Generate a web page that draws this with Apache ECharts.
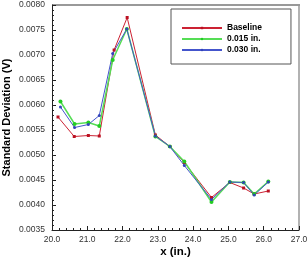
<!DOCTYPE html>
<html><head><meta charset="utf-8">
<script src="https://cdn.jsdelivr.net/npm/echarts@6/dist/echarts.min.js"></script>
<style>html,body{margin:0;padding:0;background:#fff}#c{width:308px;height:260px}</style>
</head><body><div id="c"></div>
<script>
var seriesNames = ['Baseline', '0.015 in.', '0.030 in.'];
var xBaseline = [20.17, 20.63, 21.03, 21.34, 21.76, 22.13, 22.93, 23.34, 23.75, 24.52, 25.04, 25.43, 25.73, 26.13];
var xOther    = [20.24, 20.64, 21.03, 21.34, 21.72, 22.12, 22.93, 23.34, 23.75, 24.52, 25.04, 25.43, 25.73, 26.13];
var yBaseline = [0.00576, 0.00537, 0.00539, 0.00538, 0.00710, 0.00775, 0.00540, 0.00517, 0.00485, 0.00415, 0.00445, 0.00434, 0.00422, 0.00428];
var y015      = [0.00607, 0.00562, 0.00565, 0.00558, 0.00690, 0.00752, 0.00537, 0.00517, 0.00487, 0.00406, 0.00446, 0.00445, 0.00422, 0.00447];
var y030      = [0.00596, 0.00555, 0.00561, 0.00579, 0.00703, 0.00752, 0.00538, 0.00517, 0.00479, 0.00411, 0.00446, 0.00445, 0.00420, 0.00446];
var xTicks = ['20.0','21.0','22.0','23.0','24.0','25.0','26.0','27.0'];

function pairs(xs, ys){ return xs.map(function(x,i){ return [x, ys[i]]; }); }

var chart = echarts.init(document.getElementById('c'), null, {renderer:'canvas'});
var font = 'Liberation Sans, Arial, sans-serif';
chart.setOption({
  animation:false,
  backgroundColor:'#fff',
  grid:{left:52, right:9, top:5, bottom:30, containLabel:false, outerBoundsMode:'none', show:false},
  graphic:[
    {type:'line', shape:{x1:52, y1:5, x2:300, y2:5}, style:{stroke:'#999', lineWidth:2}},
    {type:'line', shape:{x1:299, y1:5, x2:299, y2:230}, style:{stroke:'#999', lineWidth:1.5}}
  ],
  legend:{
    orient:'vertical', left:171, top:9,
    padding:[14, 29, 9, 10], itemGap:1, itemWidth:40, itemHeight:3,
    borderColor:'#555', borderWidth:1,
    textStyle:{fontFamily:font, fontSize:8.5, fontWeight:'bold', color:'#000', lineHeight:10},
    data:seriesNames
  },
  xAxis:{
    type:'value', min:20, max:27, interval:1, name:'x (in.)', nameLocation:'middle', nameGap:16, nameMoveOverlap:false,
    nameTextStyle:{fontFamily:font, fontSize:11.5, fontWeight:'bold', color:'#000'},
    axisLine:{lineStyle:{color:'#222', width:1}},
    axisTick:{inside:true, length:4, lineStyle:{color:'#222'}},
    minorTick:{show:true, splitNumber:5, length:2, lineStyle:{color:'#222', width:1}},
    splitLine:{show:false},
    axisLabel:{fontFamily:font, fontSize:8.5, color:'#333', margin:5,
      formatter:function(v){ return xTicks[Math.round(v-20)]; }}
  },
  yAxis:{
    type:'value', min:0.0035, max:0.0080, interval:0.0005, name:'Standard Deviation (V)', nameLocation:'middle', nameGap:40, nameMoveOverlap:false,
    nameTextStyle:{fontFamily:font, fontSize:11, fontWeight:'bold', color:'#000'},
    axisLine:{show:true, lineStyle:{color:'#222', width:1}},
    axisTick:{show:true, inside:true, length:4, lineStyle:{color:'#222'}},
    minorTick:{show:true, splitNumber:5, length:2, lineStyle:{color:'#222', width:1}},
    splitLine:{show:false},
    axisLabel:{fontFamily:font, fontSize:8.5, color:'#333', margin:7,
      formatter:function(v){ return v.toFixed(4); }}
  },
  series:[
    {name:seriesNames[0], type:'line', data:pairs(xBaseline, yBaseline), symbol:'rect', symbolSize:3,
      lineStyle:{color:'#cc2233', width:1}, itemStyle:{color:'#bb1122'}, color:'#cc2233'},
    {name:seriesNames[1], type:'line', data:pairs(xOther, y015), symbol:'circle', symbolSize:4,
      lineStyle:{color:'#55dd55', width:1.5}, itemStyle:{color:'#22cc22'}, color:'#55dd55'},
    {name:seriesNames[2], type:'line', data:pairs(xOther, y030), symbol:'circle', symbolSize:3,
      lineStyle:{color:'#4455cc', width:1}, itemStyle:{color:'#3344bb'}, color:'#4455cc'}
  ]
});
</script></body></html>
